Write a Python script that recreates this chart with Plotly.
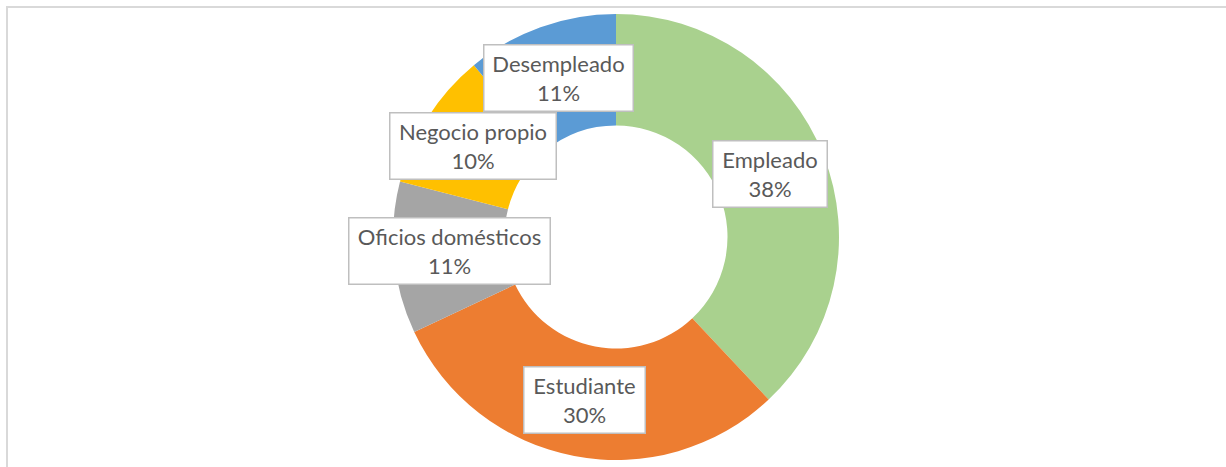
import plotly.graph_objects as go

categories = ["Empleado", "Estudiante", "Oficios domésticos", "Negocio propio", "Desempleado"]
values = [38, 30, 11, 10, 11]
colors = ["#A9D18E", "#ED7D31", "#A5A5A5", "#FFC000", "#5B9BD5"]

W, H = 1226, 467
# label box centres / sizes in pixels (layout)
label_boxes = {
    "Empleado": (770, 174, 115, 67),
    "Estudiante": (584, 400, 122, 67),
    "Oficios domésticos": (449, 251, 202, 67),
    "Negocio propio": (473, 146, 167, 67),
    "Desempleado": (558, 78, 150, 67),
}

cx, cy, r = 616, 237, 223

fig = go.Figure(go.Pie(
    labels=categories,
    values=values,
    marker=dict(colors=colors, line=dict(width=0)),
    hole=0.5,
    sort=False,
    direction="clockwise",
    rotation=0,
    textinfo="none",
    showlegend=False,
    domain=dict(x=[(cx - r) / W, (cx + r) / W], y=[1 - (cy + r) / H, 1 - (cy - r) / H]),
))

total = sum(values)
for cat, v in zip(categories, values):
    x, y, w, h = label_boxes[cat]
    fig.add_annotation(
        x=x / W, y=1 - y / H, xref="paper", yref="paper",
        text=f"{cat}<br>{round(v / total * 100)}%",
        showarrow=False,
        font=dict(family="Lato, Open Sans, sans-serif", size=22, color="#595959"),
        bgcolor="white", bordercolor="#BFBFBF", borderwidth=1.5,
        width=w - 4, height=h - 4, align="center", valign="middle",
        xanchor="center", yanchor="middle",
    )

fig.add_shape(type="rect", xref="paper", yref="paper",
              x0=7 / W, x1=1.05, y0=-0.05, y1=1 - 7 / H,
              line=dict(color="#D9D9D9", width=2), fillcolor="rgba(0,0,0,0)")

fig.update_layout(
    width=W, height=H,
    margin=dict(l=0, r=0, t=0, b=0),
    paper_bgcolor="white", plot_bgcolor="white",
)

fig.write_html("out.html", config={"displayModeBar": False},
               post_script="document.body.style.margin='0';document.body.style.overflow='hidden';")
